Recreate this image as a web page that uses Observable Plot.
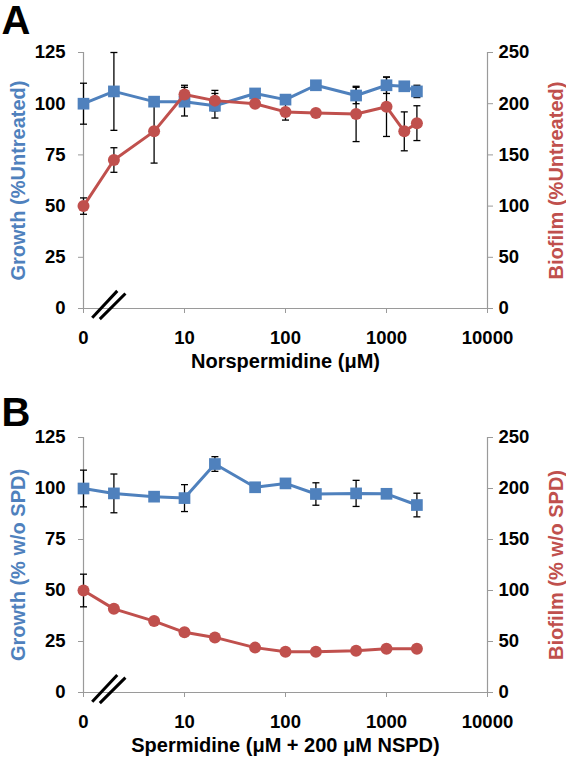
<!DOCTYPE html>
<html><head><meta charset="utf-8">
<script src="https://cdn.jsdelivr.net/npm/d3@7"></script>
<script src="https://cdn.jsdelivr.net/npm/@observablehq/plot@0.6"></script>
<style>
body{margin:0;background:#fff;font-family:"Liberation Sans",Arial,sans-serif}
#chart{width:566px}
#chart svg{display:block}
</style>
</head><body><div id="chart"></div>
<script>
// Panel A: Norspermidine
const concA = [0, 2, 5, 10, 20, 50, 100, 200, 500, 1000, 1500, 2000];
const growthA = [100, 106, 101, 101, 99, 105, 102, 109, 104, 109, 108.5, 106];
const growthErrA = [10, 19, 2, 7, 6, 2, 2, 2, 4, 4, 2, 3];
const biofilmA = [100, 145, 173, 209, 203, 200, 192, 191, 190, 197, 173, 181];
const biofilmErrA = [8, 12, 31, 9, 10, 3, 8, 3, 27, 29, 19, 17];

// Panel B: Spermidine + 200 µM NSPD
const concB = [0, 2, 5, 10, 20, 50, 100, 200, 500, 1000, 2000];
const growthB = [100, 97.6, 96, 95.3, 112, 100.6, 102.5, 97.3, 97.6, 97.4, 91.9];
const growthErrB = [9, 9.5, 1, 6.6, 3.6, 1, 1, 5.5, 6.4, 1, 5.8];
const biofilmB = [100, 82, 70, 59, 54, 44, 40, 40, 41, 43, 43];
const biofilmErrB = [16, 2, 2, 2, 2, 2, 2, 2, 2, 2, 2];

// Axis ticks
const xTicks = [0, 10, 100, 1000, 10000];
const leftTicks = [0, 25, 50, 75, 100, 125];
const rightTicks = [0, 50, 100, 150, 200, 250];

const BLUE = "#4F81BD", RED = "#C0504D", AXIS = "#9a9a9a";
const FONT = "Liberation Sans, Arial, sans-serif";

const capSymbol = {draw(ctx) { ctx.moveTo(-3.5, 0); ctx.lineTo(3.5, 0); }};
const breakMarks = [
  {x1: 1.22, y1: -4.5, x2: 2.16, y2: 8.6},
  {x1: 1.45, y1: -5.2, x2: 2.6, y2: 7.3}
];

const pos = c => c === 0 ? 1 : c; // "0" drawn at the axis origin of the log scale
const scaleR = 125 / 250; // right axis → left axis units

function panel({letter, conc, growth, gErr, biofilm, bErr, xLabel, yLeft, yRight, height, marginTop, marginBottom, letterBase}) {
  const g = conc.map((c, i) => ({x: pos(c), v: growth[i], e: gErr[i]}));
  const b = conc.map((c, i) => ({x: pos(c), v: biofilm[i] * scaleR, e: bErr[i] * scaleR}));
  const errMarks = (data) => [
    Plot.link(data, {x1: "x", x2: "x", y1: d => d.v - d.e, y2: d => d.v + d.e, stroke: "black", strokeWidth: 1.3}),
    Plot.dot(data, {x: "x", y: d => d.v - d.e, symbol: capSymbol, stroke: "black", fill: "none", strokeWidth: 1.3}),
    Plot.dot(data, {x: "x", y: d => d.v + d.e, symbol: capSymbol, stroke: "black", fill: "none", strokeWidth: 1.3})
  ];
  return Plot.plot({
    width: 566, height, marginTop, marginBottom, marginLeft: 83, marginRight: 79,
    style: {fontFamily: FONT, fontWeight: "bold", fontSize: "18px", background: "white", overflow: "visible"},
    x: {type: "log", domain: [1, 10000], axis: null},
    y: {domain: [0, 125], axis: null},
    marks: [
      Plot.ruleY([0], {stroke: AXIS, strokeWidth: 1.2}),
      Plot.ruleX([1], {stroke: AXIS, strokeWidth: 1.2}),
      Plot.ruleX([10000], {stroke: AXIS, strokeWidth: 1.2}),
      Plot.axisX({ticks: xTicks.map(pos), tickFormat: d => d === 1 ? "0" : String(d), tickSize: 5, tickPadding: 17,
        stroke: AXIS, fill: "black", fontSize: 18.5, fontWeight: "bold", label: null}),
      Plot.axisY({anchor: "left", ticks: leftTicks, tickSize: 5, tickPadding: 13,
        stroke: AXIS, fill: "black", fontSize: 18.5, fontWeight: "bold", label: null}),
      Plot.axisY({anchor: "right", ticks: rightTicks.map(t => t * scaleR), tickFormat: d => String(Math.round(d / scaleR)),
        tickSize: 5, tickPadding: 6, stroke: AXIS, fill: "black", fontSize: 18.5, fontWeight: "bold", label: null}),
      Plot.link(breakMarks, {x1: "x1", y1: "y1", x2: "x2", y2: "y2", stroke: "black", strokeWidth: 3}),
      ...errMarks(g),
      ...errMarks(b),
      Plot.line(g, {x: "x", y: "v", stroke: BLUE, strokeWidth: 3}),
      Plot.dot(g, {x: "x", y: "v", symbol: "square", r: 6.6, fill: BLUE}),
      Plot.line(b, {x: "x", y: "v", stroke: RED, strokeWidth: 3}),
      Plot.dot(b, {x: "x", y: "v", symbol: "circle", r: 6, fill: RED}),
      Plot.text([yLeft], {frameAnchor: "left", dx: -65, rotate: -90, textAnchor: "middle", lineAnchor: "middle",
        fill: BLUE, fontSize: 20, fontWeight: "bold"}),
      Plot.text([yRight], {frameAnchor: "right", dx: 69, rotate: -90, textAnchor: "middle", lineAnchor: "middle",
        fill: RED, fontSize: 20, fontWeight: "bold"}),
      Plot.text([xLabel], {frameAnchor: "bottom", dy: 53, textAnchor: "middle", lineAnchor: "middle",
        fill: "black", fontSize: 20, fontWeight: "bold"}),
      Plot.text([letter], {frameAnchor: "top-left", dx: -82, dy: -(marginTop - letterBase), lineAnchor: "bottom",
        textAnchor: "start", fill: "black", fontSize: 40, fontWeight: "bold"})
    ]
  });
}

const chart = document.getElementById("chart");
chart.append(panel({
  letter: "A", conc: concA, growth: growthA, gErr: growthErrA, biofilm: biofilmA, bErr: biofilmErrA,
  xLabel: "Norspermidine (μM)", yLeft: "Growth (%Untreated)", yRight: "Biofilm (%Untreated)",
  height: 375, marginTop: 52, marginBottom: 67, letterBase: 33
}));
chart.append(panel({
  letter: "B", conc: concB, growth: growthB, gErr: growthErrB, biofilm: biofilmB, bErr: biofilmErrB,
  xLabel: "Spermidine (μM + 200 μM NSPD)", yLeft: "Growth (% w/o SPD)", yRight: "Biofilm (% w/o SPD)",
  height: 383, marginTop: 62, marginBottom: 66, letterBase: 50
}));
</script>
</body></html>
